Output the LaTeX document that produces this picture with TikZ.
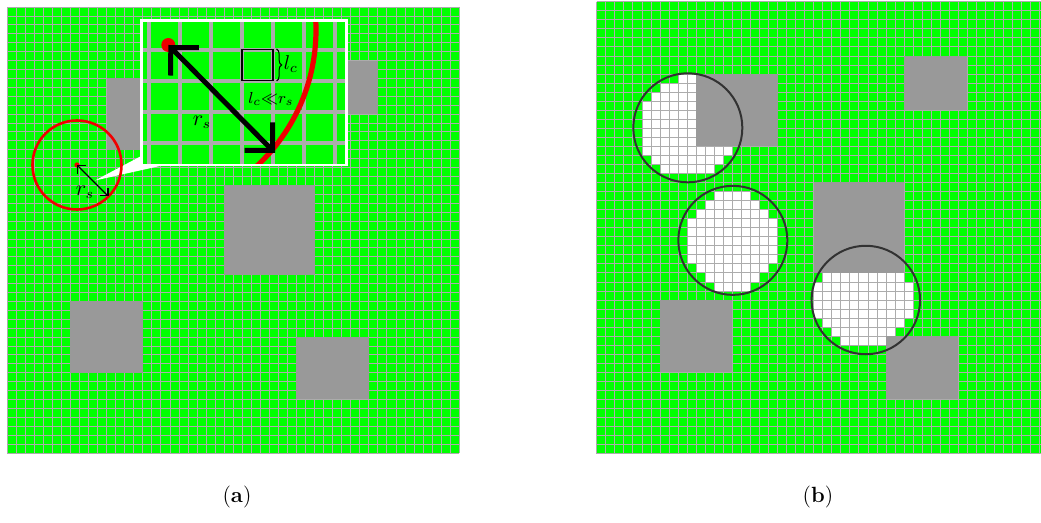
\documentclass[tikz,border=0pt]{standalone}
\usepackage{amsmath,amssymb}
\usepackage{tikz}
\usetikzlibrary{arrows.meta,positioning,calc,decorations.pathreplacing}

\definecolor{cellgreen}{RGB}{0,255,0}
\definecolor{gridgray}{RGB}{172,172,172}
\definecolor{blockgray}{RGB}{153,153,153}
\definecolor{ringgray}{RGB}{50,50,50}
\definecolor{sensred}{RGB}{240,0,0}

% obstacles (cell units): x0/y0/x1/y1
\def\blocklist{11/8/20/16, 34/6/41/12, 24/20/34/30, 7/33/15/41, 32/37/40/44}
% covered cells of panel (b): row/first/last
\def\freecells{8/9/10, 9/7/10, 10/6/10, 11/5/10, 12/5/10, 13/5/10, 14/5/10, 15/5/10, 16/5/14, 17/6/13, 18/7/12,
  21/13/16, 22/12/17, 23/11/18, 24/10/19, 25/10/19, 26/10/19, 27/10/19, 28/10/19, 29/11/18, 30/12/17, 31/13/16,
  30/25/33, 31/24/34, 32/24/34, 33/24/34, 34/24/34, 35/25/33, 36/26/32, 37/27/31}

\begin{document}
\begin{tikzpicture}[x=0.5pt,y=-0.5pt,
  gridline/.style={draw=gridgray,line width=0.4pt},
  zoomline/.style={draw=gridgray,line width=1.6pt},
  block/.style={fill=blockgray},
  ring/.style={draw=ringgray,line width=1pt},
  bigarrow/.style={{Straight Barb[angle=90:14pt]}-{Straight Barb[angle=90:14pt]},line width=2.5pt},
  smallarrow/.style={{Straight Barb[angle=90:4pt]}-{Straight Barb[angle=90:4pt]},line width=0.6pt},
  cellbox/.style={draw,line width=0.6pt,minimum size=15.5pt,inner sep=0pt},
  mathlbl/.style={inner sep=0pt,font=\fontsize{10.5}{12}\selectfont},
  caplbl/.style={inner sep=0pt,font=\fontsize{11}{13}\selectfont}]
  \useasboundingbox (0,0) rectangle (1041,523);
  % panel (a): the map
  \begin{scope}[xshift=3.6pt,yshift=-3.5pt,x=4.52pt,y=-4.46pt]
    \fill[cellgreen] (0,0) rectangle (50,50);
    \foreach \k in {0,...,50} {
      \draw[gridline] (\k,0) -- (\k,50);
      \draw[gridline] (0,\k) -- (50,\k);
    }
    \foreach \xa/\ya/\xb/\yb in \blocklist
      \fill[block] (\xa,\ya) rectangle (\xb,\yb);
  \end{scope}
  % panel (b): the map with covered cells
  \begin{scope}[xshift=298.35pt,yshift=-0.85pt,x=4.52pt,y=-4.52pt]
    \clip (-1,-1) rectangle (49.15,51);
    \fill[cellgreen] (0,0) rectangle (50,50);
    \foreach \r/\ca/\cb in \freecells
      \fill[white] (\ca,\r) rectangle ({\cb+1},{\r+1});
    \foreach \k in {0,...,50} {
      \draw[gridline] (\k,0) -- (\k,50);
      \draw[gridline] (0,\k) -- (50,\k);
    }
    \foreach \xa/\ya/\xb/\yb in \blocklist
      \fill[block] (\xa,\ya) rectangle (\xb,\yb);
    \draw[ring] (10.08,13.95) circle[radius=6.03];
    \draw[ring] (15.06,26.4) circle[radius=6.03];
    \draw[ring] (29.77,33.0) circle[radius=6.0];
  \end{scope}
  % sensor and callout
  \coordinate (sensor) at (77,165);
  \coordinate (rim) at (108.5,196.5);
  \fill[white] (95,180.5) -- (145,154) -- (160,166) -- cycle;
  \draw[sensred,line width=1.3pt] (sensor) circle[radius=44.5];
  \fill[sensred] (sensor) circle[radius=2.6];
  \draw[smallarrow] (sensor) -- (rim);
  \node[mathlbl] (rssmall) at (85,192) {$r_s$};
  % zoom window
  \begin{scope}
    \clip (141.5,20.5) rectangle (346.5,165);
    \fill[cellgreen] (141.5,20.5) rectangle (346.5,165);
    \foreach \gx in {149,180,...,335}
      \draw[zoomline] (\gx,18) -- (\gx,167);
    \foreach \gy in {19,50,...,143}
      \draw[zoomline] (139,\gy) -- (349,\gy);
    \draw[sensred,line width=2.6pt] (130,30) circle[radius=186];
  \end{scope}
  \draw[white,line width=1.4pt] (141.5,20.5) rectangle (346.5,165);
  \coordinate (zc) at (168.3,45);
  \coordinate (ze) at (275,153);
  \fill[sensred] (zc) circle[radius=7];
  \draw[bigarrow] (zc) -- (ze);
  \node[cellbox] (cell) at (257.5,65) {};
  \draw[decorate,decoration={brace,amplitude=2.5pt},line width=0.5pt]
    ([xshift=1.5pt]cell.north east) -- ([xshift=1.5pt]cell.south east);
  \node[mathlbl,font=\fontsize{10}{11}\selectfont] (lc) at (291,64) {$l_c$};
  \node[mathlbl,font=\fontsize{8}{10}\selectfont] (ratio) at (271,99) {$l_c{\ll}r_s$};
  \node[mathlbl] (rsbig) at (202,122) {$r_s$};
  % captions
  \node[caplbl] (capa) at (237,497) {(\textbf{a})};
  \node[caplbl] (capb) at (818,497) {(\textbf{b})};
\end{tikzpicture}
\end{document}
